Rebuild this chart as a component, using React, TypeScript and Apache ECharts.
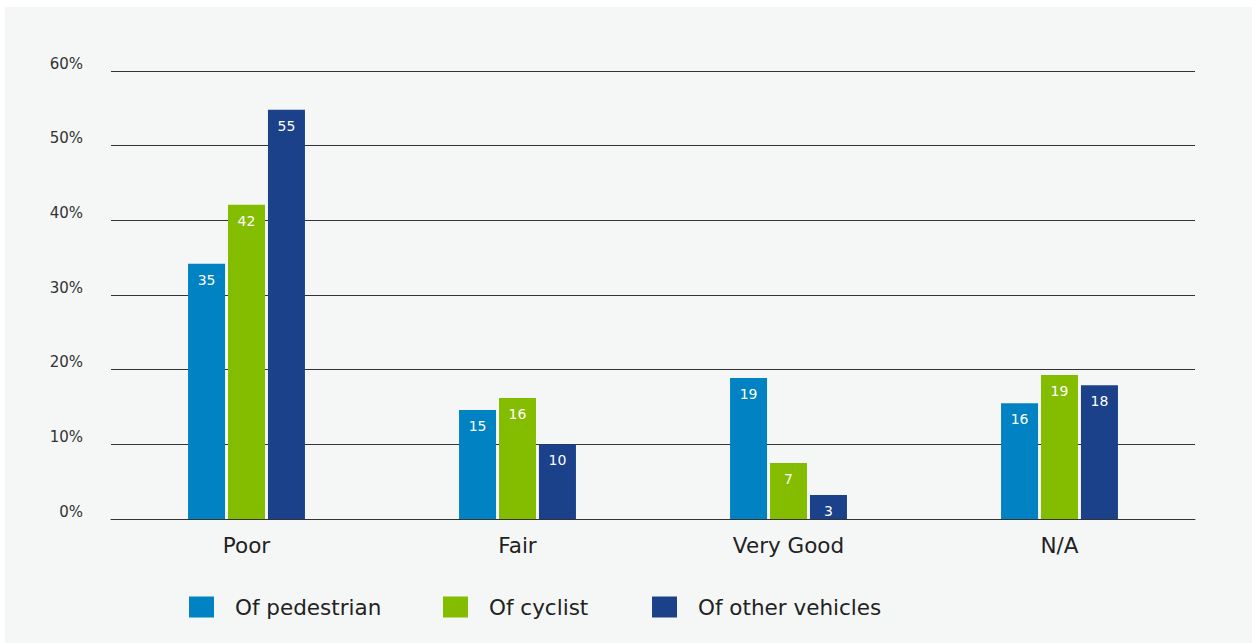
import React, { useEffect, useRef } from "react";
import * as echarts from "echarts";

const categories = ["Poor", "Fair", "Very Good", "N/A"];
const pedestrian = [34.2, 14.6, 18.9, 15.5];
const pedestrianLabels = [35, 15, 19, 16];
const cyclist = [42.1, 16.2, 7.5, 19.3];
const cyclistLabels = [42, 16, 7, 19];
const otherVehicles = [54.8, 10.0, 3.2, 17.9];
const otherLabels = [55, 10, 3, 18];
const seriesNames = ["Of pedestrian", "Of cyclist", "Of other vehicles"];
const colors = ["#0082c3", "#84bc00", "#1a4189"];

const FONT = "DejaVu Sans";

export default function App() {
  const ref = useRef<HTMLDivElement>(null);
  useEffect(() => {
    if (!ref.current) return;
    const chart = echarts.init(ref.current, undefined, { renderer: "svg" });
    const mk = (name: string, data: number[], labels: number[], color: string) => ({
      name,
      type: "bar",
      data,
      barWidth: 37,
      barGap: "8%",
      itemStyle: { color },
      label: {
        show: true,
        position: "insideTop",
        distance: 9,
        color: "#ffffff",
        fontSize: 14,
        fontFamily: FONT,
        formatter: (p: any) => String(labels[p.dataIndex]),
      },
    });
    const legendLefts = [184, 438, 647];
    chart.setOption({
      animation: false,
      backgroundColor: "#f5f7f6",
      grid: { left: 106, right: 57, top: 64, bottom: 124 },
      legend: seriesNames.map((n, i) => ({
        left: legendLefts[i],
        top: 589,
        padding: 0,
        itemWidth: 25,
        itemHeight: 21,
        icon: "rect",
        data: [n],
        textStyle: {
          fontSize: 21.5,
          fontFamily: FONT,
          color: "#222222",
          padding: [0, 0, 0, 16],
        },
      })),
      xAxis: {
        type: "category",
        data: categories,
        axisTick: { show: false },
        axisLine: { lineStyle: { color: "#333333", width: 1 } },
        axisLabel: {
          fontSize: 21.5,
          fontFamily: FONT,
          color: "#222222",
          margin: 15,
        },
      },
      yAxis: {
        type: "value",
        min: 0,
        max: 60,
        interval: 10,
        axisLabel: {
          formatter: "{value}%",
          fontSize: 15,
          fontFamily: FONT,
          color: "#333333",
          margin: 28,
          verticalAlign: "bottom",
          padding: [0, 0, 0, 0],
        },
        splitLine: { lineStyle: { color: "#333333", width: 1 } },
        axisLine: { show: false },
        axisTick: { show: false },
      },
      series: [
        mk(seriesNames[0], pedestrian, pedestrianLabels, colors[0]),
        mk(seriesNames[1], cyclist, cyclistLabels, colors[1]),
        mk(seriesNames[2], otherVehicles, otherLabels, colors[2]),
      ],
    });
    return () => chart.dispose();
  }, []);
  return (
    <div
      ref={ref}
      style={{ position: "absolute", left: 5, top: 7, width: 1247, height: 636 }}
    />
  );
}
